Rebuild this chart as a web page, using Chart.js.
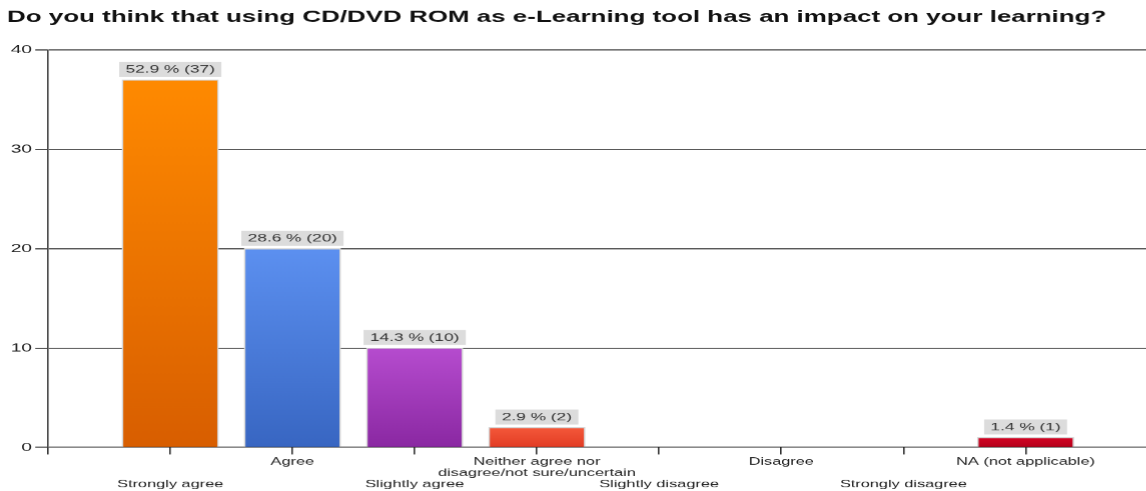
<!DOCTYPE html>
<html>
<head>
<meta charset="utf-8">
<script src="https://cdn.jsdelivr.net/npm/chart.js@4"></script>
<style>
  html, body { margin: 0; padding: 0; background: #fff; overflow: hidden; }
  #wrap { position: relative; width: 718.5px; height: 491px; transform: scaleX(1.6); transform-origin: 0 0; }
</style>
</head>
<body>
<div id="wrap"><canvas id="survey-chart"></canvas></div>
<script>
// the original picture is stretched sideways, so the chart is drawn narrow and widened
var STRETCH = 1.6;

var chartTitle = "Do you think that using CD/DVD ROM as e-Learning tool has an impact on your learning?";
var categories = [
  ["Strongly agree"],
  ["Agree"],
  ["Slightly agree"],
  ["Neither agree nor", "disagree/not sure/uncertain"],
  ["Slightly disagree"],
  ["Disagree"],
  ["Strongly disagree"],
  ["NA (not applicable)"]
];
var counts = [37, 20, 10, 2, 0, 0, 0, 1];
var percents = [52.9, 28.6, 14.3, 2.9, 0, 0, 0, 1.4];
var yTicks = [0, 10, 20, 30, 40];
var barColors = [
  ["#ff8a00", "#d85e00"],
  ["#5c90f0", "#3866c2"],
  ["#b64ccf", "#8a28a2"],
  ["#f4583a", "#e23c24"],
  ["#e0102a", "#c0001c"],
  ["#e0102a", "#c0001c"],
  ["#e0102a", "#c0001c"],
  ["#d40424", "#b4001a"]
];

// one blank slot on each side so the axis runs half a category past the outer bars
var labels = [""].concat(categories.map(function (c) { return c.join("\n"); })).concat([""]);
var values = [null].concat(counts.map(function (v) { return v > 0 ? v : null; })).concat([null]);

var FONT = "'Liberation Sans', Arial, sans-serif";

var barLabels = {
  id: "barLabels",
  afterDatasetsDraw: function (chart) {
    var ctx = chart.ctx;
    var meta = chart.getDatasetMeta(0);
    ctx.save();
    ctx.font = "10.8px " + FONT;
    ctx.textAlign = "center";
    ctx.textBaseline = "middle";
    meta.data.forEach(function (bar, i) {
      var k = i - 1;
      if (k < 0 || k >= counts.length || !counts[k]) return;
      var txt = percents[k].toFixed(1) + " % (" + counts[k] + ")";
      var w = ctx.measureText(txt).width + 8;
      var h = 15;
      var bottom = bar.y - 3;
      ctx.fillStyle = "#dcdcdc";
      ctx.fillRect(bar.x - w / 2, bottom - h, w, h);
      ctx.fillStyle = "#333";
      ctx.fillText(txt, bar.x, bottom - h / 2 + 0.5);
    });
    ctx.restore();
  }
};

function barFill(c) {
  if (c.type !== "data") return "#ccc";
  var k = c.dataIndex - 1;
  var cols = barColors[k] || barColors[0];
  var chart = c.chart;
  if (!chart.chartArea || c.raw == null) return cols[0];
  var y = chart.scales.y;
  var top = y.getPixelForValue(c.raw);
  var base = y.getPixelForValue(0);
  var g = chart.ctx.createLinearGradient(0, top, 0, base);
  g.addColorStop(0, cols[0]);
  g.addColorStop(1, cols[1]);
  return g;
}

var ctx = document.getElementById("survey-chart").getContext("2d");
var surveyChart = new Chart(ctx, {
  type: "bar",
  data: {
    labels: labels,
    datasets: [{
      data: values,
      backgroundColor: barFill,
      borderColor: "#d4d4d4",
      borderWidth: 1,
      barThickness: 60
    }]
  },
  plugins: [barLabels],
  options: {
    responsive: true,
    maintainAspectRatio: false,
    devicePixelRatio: STRETCH,
    animation: false,
    layout: { padding: { left: 4.4, top: 0, right: 0, bottom: 0 } },
    plugins: {
      legend: { display: false },
      tooltip: { enabled: false },
      title: {
        display: true,
        text: chartTitle,
        align: "start",
        color: "#111",
        font: { family: FONT, size: 16.2, weight: "bold" },
        padding: { top: 8, bottom: 22.6 }
      }
    },
    scales: {
      x: {
        offset: false,
        afterFit: function (scale) { scale.height = 44; },
        grid: {
          offset: false,
          drawOnChartArea: false,
          drawTicks: true,
          tickLength: 7,
          color: "#333",
          lineWidth: 1
        },
        border: { display: false },
        ticks: {
          autoSkip: false,
          maxRotation: 0,
          minRotation: 0,
          padding: 2,
          color: "#222",
          font: { family: FONT, size: 10.2, lineHeight: 1.1 },
          callback: function (v, i) {
            var lines = labels[i] ? labels[i].split("\n") : [""];
            // categories alternate between an upper and a lower row
            if (i > 0 && i % 2 === 1) return ["", ""].concat(lines);
            return lines;
          }
        }
      },
      y: {
        min: 0,
        max: 40,
        afterFit: function (scale) { scale.width = 25.6; },
        afterBuildTicks: function (scale) {
          scale.ticks = yTicks.map(function (v) { return { value: v }; });
        },
        grid: {
          color: "#222",
          lineWidth: 1,
          tickLength: 8
        },
        border: { display: true, color: "#444", width: 1 },
        ticks: {
          padding: 2,
          color: "#222",
          font: { family: FONT, size: 12 }
        }
      }
    }
  }
});
</script>
</body>
</html>
